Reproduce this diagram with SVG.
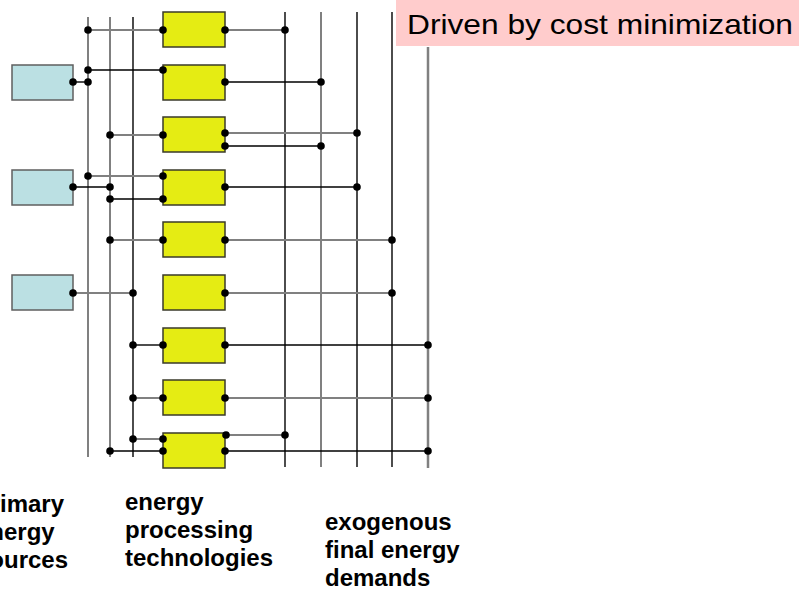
<svg xmlns="http://www.w3.org/2000/svg" width="799" height="589" viewBox="0 0 799 589">
  <style>
    .src { fill: #bbe0e3; stroke: #5f5f5f; stroke-width: 1.5; }
    .tech { fill: #e5ec13; stroke: #3a3a2a; stroke-width: 1.5; }
    .g { stroke: #808080; stroke-width: 2; fill: none; }
    .k { stroke: #000; stroke-width: 1.4; fill: none; }
    .gw { stroke: #808080; stroke-width: 2.5; fill: none; }
    .dot { fill: #000; }
    .lbl { font-family: "Liberation Sans", Arial, sans-serif; font-weight: bold; font-size: 24px; fill: #000; }
    .title { font-family: "Liberation Sans", Arial, sans-serif; font-size: 28px; fill: #000; }
  </style>
  <rect width="799" height="589" fill="#fff"/>

  <!-- banner -->
  <g id="banner">
    <rect x="396" y="0" width="403" height="46" fill="#ffcccc"/>
    <text class="title" x="407" y="34" textLength="386" lengthAdjust="spacingAndGlyphs">Driven by cost minimization</text>
  </g>

  <!-- primary energy sources -->
  <g id="src1"><rect class="src" x="12" y="65" width="61" height="35"/></g>
  <g id="src2"><rect class="src" x="12" y="170" width="61" height="35"/></g>
  <g id="src3"><rect class="src" x="12" y="275" width="61" height="35"/></g>

  <!-- energy processing technologies -->
  <g id="tech1"><rect class="tech" x="163" y="12" width="62" height="35"/></g>
  <g id="tech2"><rect class="tech" x="163" y="65" width="62" height="35"/></g>
  <g id="tech3"><rect class="tech" x="163" y="117" width="62" height="35"/></g>
  <g id="tech4"><rect class="tech" x="163" y="170" width="62" height="35"/></g>
  <g id="tech5"><rect class="tech" x="163" y="222" width="62" height="35"/></g>
  <g id="tech6"><rect class="tech" x="163" y="275" width="62" height="35"/></g>
  <g id="tech7"><rect class="tech" x="163" y="328" width="62" height="35"/></g>
  <g id="tech8"><rect class="tech" x="163" y="380" width="62" height="35"/></g>
  <g id="tech9"><rect class="tech" x="163" y="433" width="62" height="35"/></g>

  <g id="connectors">
    <!-- carrier buses -->
    <line class="g" x1="88" y1="17" x2="88" y2="457"/>
    <line class="g" x1="110" y1="17" x2="110" y2="457"/>
    <line class="k" x1="133" y1="17" x2="133" y2="457"/>
    <line class="k" x1="285" y1="12" x2="285" y2="467"/>
    <line class="g" x1="321" y1="12" x2="321" y2="467"/>
    <line class="k" x1="357" y1="12" x2="357" y2="467"/>
    <line class="k" x1="392" y1="12" x2="392" y2="467"/>
    <line class="gw" x1="428" y1="47" x2="428" y2="468"/>

    <!-- taps -->
    <line class="g" x1="88" y1="30" x2="163" y2="30"/>
    <line class="g" x1="225" y1="30" x2="285" y2="30"/>

    <line class="k" x1="73" y1="82" x2="88" y2="82"/>
    <line class="k" x1="88" y1="70" x2="163" y2="70"/>
    <line class="k" x1="225" y1="82" x2="321" y2="82"/>

    <line class="g" x1="110" y1="135" x2="163" y2="135"/>
    <line class="g" x1="225" y1="133" x2="357" y2="133"/>
    <line class="k" x1="225" y1="146" x2="321" y2="146"/>

    <line class="g" x1="88" y1="176" x2="163" y2="176"/>
    <line class="k" x1="73" y1="187" x2="110" y2="187"/>
    <line class="k" x1="110" y1="199" x2="163" y2="199"/>
    <line class="k" x1="225" y1="187" x2="357" y2="187"/>

    <line class="g" x1="110" y1="240" x2="163" y2="240"/>
    <line class="g" x1="225" y1="240" x2="392" y2="240"/>

    <line class="g" x1="73" y1="293" x2="133" y2="293"/>
    <line class="g" x1="225" y1="293" x2="392" y2="293"/>

    <line class="k" x1="133" y1="345" x2="163" y2="345"/>
    <line class="k" x1="225" y1="345" x2="428" y2="345"/>

    <line class="g" x1="133" y1="398" x2="163" y2="398"/>
    <line class="g" x1="225" y1="398" x2="428" y2="398"/>

    <line class="g" x1="133" y1="439" x2="163" y2="439"/>
    <line class="k" x1="110" y1="451" x2="163" y2="451"/>
    <line class="g" x1="226" y1="435" x2="285" y2="435"/>
    <line class="k" x1="225" y1="451" x2="428" y2="451"/>

    <!-- junctions -->
    <g class="dot">
      <circle cx="88" cy="30" r="3.8"/><circle cx="163" cy="30" r="3.8"/>
      <circle cx="225" cy="30" r="3.8"/><circle cx="285" cy="30" r="3.8"/>

      <circle cx="73" cy="82" r="3.8"/><circle cx="88" cy="82" r="3.8"/>
      <circle cx="88" cy="70" r="3.8"/><circle cx="163" cy="70" r="3.8"/>
      <circle cx="225" cy="82" r="3.8"/><circle cx="321" cy="82" r="3.8"/>

      <circle cx="110" cy="135" r="3.8"/><circle cx="163" cy="135" r="3.8"/>
      <circle cx="225" cy="133" r="3.8"/><circle cx="357" cy="133" r="3.8"/>
      <circle cx="225" cy="146" r="3.8"/><circle cx="321" cy="146" r="3.8"/>

      <circle cx="88" cy="176" r="3.8"/><circle cx="163" cy="176" r="3.8"/>
      <circle cx="73" cy="187" r="3.8"/><circle cx="110" cy="187" r="3.8"/>
      <circle cx="110" cy="199" r="3.8"/><circle cx="163" cy="199" r="3.8"/>
      <circle cx="225" cy="187" r="3.8"/><circle cx="357" cy="187" r="3.8"/>

      <circle cx="110" cy="240" r="3.8"/><circle cx="163" cy="240" r="3.8"/>
      <circle cx="225" cy="240" r="3.8"/><circle cx="392" cy="240" r="3.8"/>

      <circle cx="73" cy="293" r="3.8"/><circle cx="133" cy="293" r="3.8"/>
      <circle cx="225" cy="293" r="3.8"/><circle cx="392" cy="293" r="3.8"/>

      <circle cx="133" cy="345" r="3.8"/><circle cx="163" cy="345" r="3.8"/>
      <circle cx="225" cy="345" r="3.8"/><circle cx="428" cy="345" r="3.8"/>

      <circle cx="133" cy="398" r="3.8"/><circle cx="163" cy="398" r="3.8"/>
      <circle cx="225" cy="398" r="3.8"/><circle cx="428" cy="398" r="3.8"/>

      <circle cx="133" cy="439" r="3.8"/><circle cx="163" cy="439" r="3.8"/>
      <circle cx="110" cy="451" r="3.8"/><circle cx="163" cy="451" r="3.8"/>
      <circle cx="226" cy="435" r="3.8"/><circle cx="285" cy="435" r="3.8"/>
      <circle cx="225" cy="451" r="3.8"/><circle cx="428" cy="451" r="3.8"/>
    </g>
  </g>

  <!-- column captions -->
  <g id="captions" class="lbl">
    <text x="-24" y="512">primary</text>
    <text x="-24" y="540">energy</text>
    <text x="-24" y="568">sources</text>
    <text x="125" y="510">energy</text>
    <text x="125" y="538">processing</text>
    <text x="125" y="566">technologies</text>
    <text x="325" y="530">exogenous</text>
    <text x="325" y="558">final energy</text>
    <text x="325" y="586">demands</text>
  </g>
</svg>
